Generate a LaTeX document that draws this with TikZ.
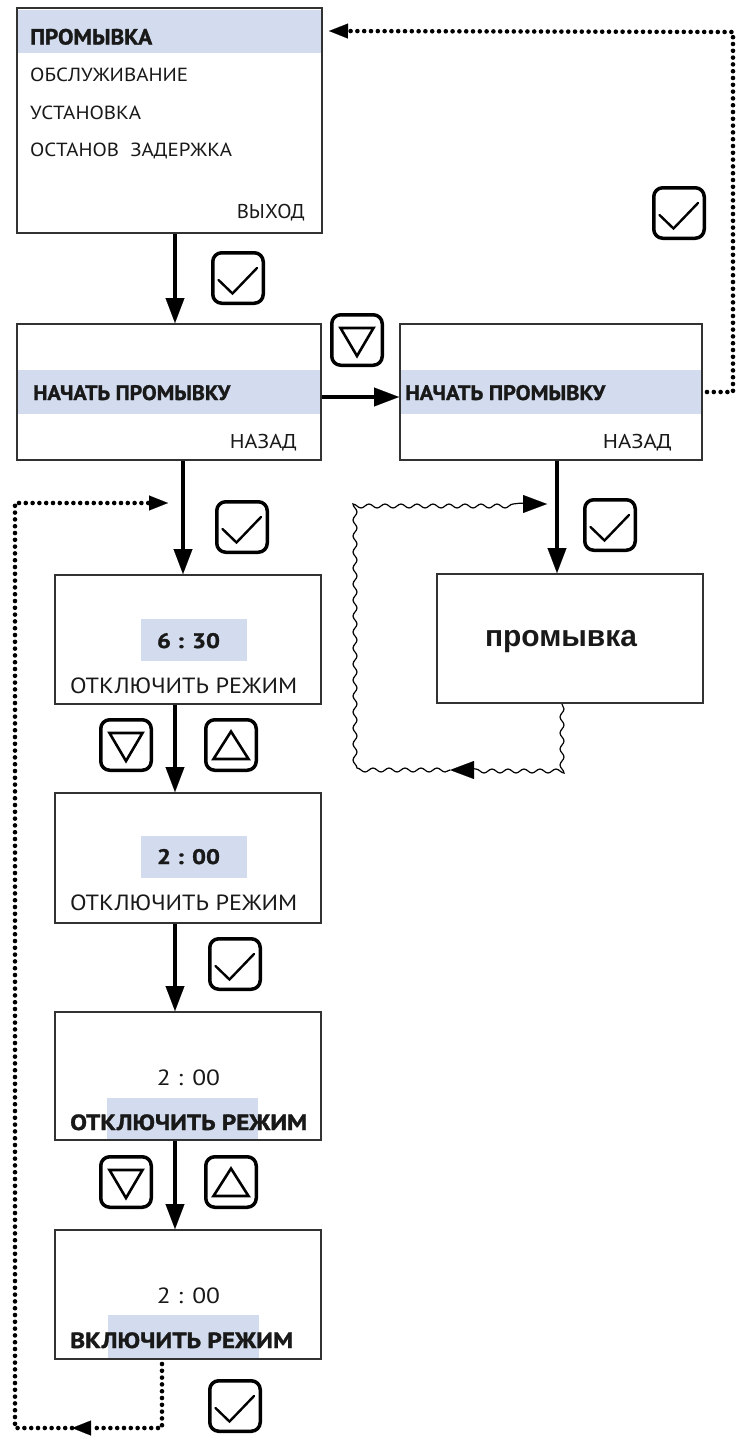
\documentclass[tikz,border=0pt]{standalone}
\usepackage{fontspec}
\usepackage{graphicx}
\usetikzlibrary{arrows.meta,calc,decorations.pathmorphing}
\newfontfamily\ui{PT Sans}
\newfontfamily\uih[BoldFeatures={FakeBold=1.3}]{PT Sans}
\newfontfamily\arl{Liberation Sans}
\newcommand\fw[2]{\resizebox{#1}{\height}{#2}}
\definecolor{hlc}{RGB}{211,220,238}
\definecolor{bord}{RGB}{50,50,50}
\definecolor{ink}{RGB}{25,25,25}
\tikzset{
  box/.style={draw=bord,line width=2pt,inner sep=0pt,fill=none},
  keybox/.style={draw=black,line width=3.5pt,rounded corners=9pt,minimum size=50.5pt,inner sep=0pt},
  keycheck/.style={keybox,path picture={\draw[sharp corners,line width=2.4pt,line cap=round,line join=miter]
     ([shift={(-19.5pt,-2pt)}]path picture bounding box.center) -- ([shift={(-5.5pt,-15.5pt)}]path picture bounding box.center) -- ([shift={(19pt,10pt)}]path picture bounding box.center);}},
  keydown/.style={keybox,path picture={\draw[sharp corners,line width=2.6pt,line join=miter]
     ([shift={(-16.5pt,12pt)}]path picture bounding box.center) -- ([shift={(16.5pt,12pt)}]path picture bounding box.center) -- ([shift={(0pt,-16pt)}]path picture bounding box.center) -- cycle;}},
  keyup/.style={keybox,path picture={\draw[sharp corners,line width=2.6pt,line join=miter]
     ([shift={(-17.5pt,-14pt)}]path picture bounding box.center) -- ([shift={(17.5pt,-14pt)}]path picture bounding box.center) -- ([shift={(0pt,13.5pt)}]path picture bounding box.center) -- cycle;}},
  mainarrow/.style={line width=4pt,-{Triangle[length=25pt,width=19pt,line width=0.1pt]}},
  dotline/.style={line width=4.6pt,line cap=round,dash pattern=on 0pt off 6.8pt},
  dotarrow/.style={dotline,-{Triangle[length=19pt,width=15pt,line width=0.1pt]}},
  wavy/.style={line width=1.2pt,decorate,decoration={snake,amplitude=2pt,segment length=16pt,post length=16pt}},
  wavyarrow/.style={wavy,-{Triangle[length=24pt,width=18pt,line width=0.1pt]}},
  reg/.style={inner sep=0pt,text=ink,font=\ui\fontsize{19}{19}\selectfont},
  bld/.style={inner sep=0pt,text=ink,font=\uih\bfseries\fontsize{22}{22}\selectfont},
  hl/.style={fill=hlc}
}
\begin{document}
\begin{tikzpicture}[x=1pt,y=-1pt]
\useasboundingbox[fill=white] (0,0) rectangle (745,1436);
% highlight bands
\fill[hl] (18,10) rectangle (321,53);
\fill[hl] (18,370) rectangle (320,414);
\fill[hl] (401,370) rectangle (701,414);
\fill[hl] (141,619) rectangle (247,661);
\fill[hl] (141,836) rectangle (247,878);
\fill[hl] (107,1098) rectangle (258,1139);
\fill[hl] (108,1315) rectangle (259,1358);
% boxes
\node[box,minimum width=305pt,minimum height=225pt] (b1) at (169.5,120.5) {};
\node[box,minimum width=304pt,minimum height=136pt] (b2) at (169,392) {};
\node[box,minimum width=302pt,minimum height=136pt] (b3) at (551,392) {};
\node[box,minimum width=266pt,minimum height=129pt] (pr) at (570,638.5) {};
\node[box,minimum width=266pt,minimum height=129pt] (b4) at (188,639.5) {};
\node[box,minimum width=266pt,minimum height=130pt] (b5) at (188,858) {};
\node[box,minimum width=266pt,minimum height=128pt] (b6) at (188,1076) {};
\node[box,minimum width=266pt,minimum height=129pt] (b7) at (188,1294.5) {};
% texts box 1
\node[bld,anchor=base west] (t1a) at (30,44.5) {\fw{122pt}{ПРОМЫВКА}};
\node[reg,anchor=base west] (t1b) at (30,81) {\fw{158pt}{ОБСЛУЖИВАНИЕ}};
\node[reg,anchor=base west] (t1c) at (30,119) {\fw{111pt}{УСТАНОВКА}};
\node[reg,anchor=base west] (t1d) at (30,156) {\fw{202pt}{ОСТАНОВ\ \ ЗАДЕРЖКА}};
\node[reg,anchor=base east,font=\ui\fontsize{20}{20}\selectfont] (t1e) at (305,218) {\fw{68pt}{ВЫХОД}};
% box 2 and 3
\node[bld,anchor=base west,font=\uih\bfseries\fontsize{21}{21}\selectfont] (t2a) at (33,400) {\fw{197pt}{НАЧАТЬ ПРОМЫВКУ}};
\node[reg,anchor=base east,font=\ui\fontsize{20}{20}\selectfont] (t2b) at (297,448) {\fw{67pt}{НАЗАД}};
\node[bld,anchor=base west,font=\uih\bfseries\fontsize{21}{21}\selectfont] (t3a) at (405,400) {\fw{200pt}{НАЧАТЬ ПРОМЫВКУ}};
\node[reg,anchor=base east,font=\ui\fontsize{20}{20}\selectfont] (t3b) at (672,448) {\fw{69pt}{НАЗАД}};
% washing box
\node[inner sep=0pt,anchor=base,text=ink,font=\arl\bfseries\fontsize{30}{30}\selectfont] (tpr) at (561,646) {\fw{152pt}{промывка}};
% box 4
\node[bld,anchor=base,font=\uih\bfseries\fontsize{21}{21}\selectfont] (t4a) at (188.5,648) {\fw{63pt}{6 : 30}};
\node[reg,anchor=base west,font=\ui\fontsize{22}{22}\selectfont] (t4b) at (70,693) {\fw{227pt}{ОТКЛЮЧИТЬ РЕЖИМ}};
% box 5
\node[bld,anchor=base,font=\uih\bfseries\fontsize{21}{21}\selectfont] (t5a) at (188.5,864) {\fw{63pt}{2 : 00}};
\node[reg,anchor=base west,font=\ui\fontsize{22}{22}\selectfont] (t5b) at (70,910) {\fw{227pt}{ОТКЛЮЧИТЬ РЕЖИМ}};
% box 6
\node[reg,anchor=base,font=\ui\fontsize{22}{22}\selectfont] (t6a) at (188.5,1085) {\fw{63pt}{2 : 00}};
\node[bld,anchor=base west,font=\uih\bfseries\fontsize{22}{22}\selectfont] (t6b) at (70,1130) {\fw{237pt}{ОТКЛЮЧИТЬ РЕЖИМ}};
% box 7
\node[reg,anchor=base,font=\ui\fontsize{22}{22}\selectfont] (t7a) at (188.5,1303) {\fw{63pt}{2 : 00}};
\node[bld,anchor=base west,font=\uih\bfseries\fontsize{22}{22}\selectfont] (t7b) at (70,1348) {\fw{223pt}{ВКЛЮЧИТЬ РЕЖИМ}};
% keys
\node[keycheck] (k1) at (238,278) {};
\node[keydown] (kt1) at (357,340) {};
\node[keycheck] (k2) at (679,213) {};
\node[keycheck] (k3) at (242,527) {};
\node[keycheck] (k4) at (610,525) {};
\node[keydown] (kd1) at (126,745) {};
\node[keyup] (ku1) at (231,745) {};
\node[keycheck] (k5) at (235,964) {};
\node[keydown] (kd2) at (126,1182) {};
\node[keyup] (ku2) at (231,1182) {};
\node[keycheck] (k6) at (235,1406) {};
% main arrows
\draw[mainarrow] ([xshift=5.5pt]b1.south) -- ([xshift=5.5pt]b1.south |- b2.north);
\draw[mainarrow] ([yshift=-5pt]b2.east) -- ([yshift=-5pt]b2.east -| b3.west);
\draw[mainarrow] ([xshift=14pt]b2.south) -- ([xshift=14pt]b2.south |- b4.north);
\draw[mainarrow] ([xshift=6pt]b3.south) -- ([xshift=6pt]b3.south |- pr.north);
\draw[mainarrow] ([xshift=-13pt]b4.south) -- ([xshift=-13pt]b4.south |- b5.north);
\draw[mainarrow] ([xshift=-13pt]b5.south) -- ([xshift=-13pt]b5.south |- b6.north);
\draw[mainarrow] ([xshift=-13pt]b6.south) -- ([xshift=-13pt]b6.south |- b7.north);
% dotted return to menu
\coordinate (tr) at (733,392);
\coordinate (tt) at (733,32);
\draw[dotarrow] ([xshift=4pt]b3.east) -- (tr) -- (tt) -- ([shift={(6pt,-24pt)}]b1.north east);
% dotted loop bottom
\coordinate (bm) at (72,1428);
\coordinate (bl) at (15,1428);
\coordinate (tl) at (15,503);
\coordinate (lt) at (168,503);
\draw[dotarrow] ([shift={(-26pt,-4pt)}]b7.south) |- (bm);
\draw[dotarrow] (bm) -- (bl) -- (tl) -- (lt);
% wavy loop
\coordinate (wb) at (450,770);
\coordinate (wbl) at (362,770);
\coordinate (wtl) at (362,504);
\coordinate (wt) at (547,504);
\draw[wavyarrow] ([xshift=-8pt]pr.south) |- (wb);
\draw[wavyarrow] (wb) -- (wbl) -- (wtl) -- (wt);
\end{tikzpicture}
\end{document}
